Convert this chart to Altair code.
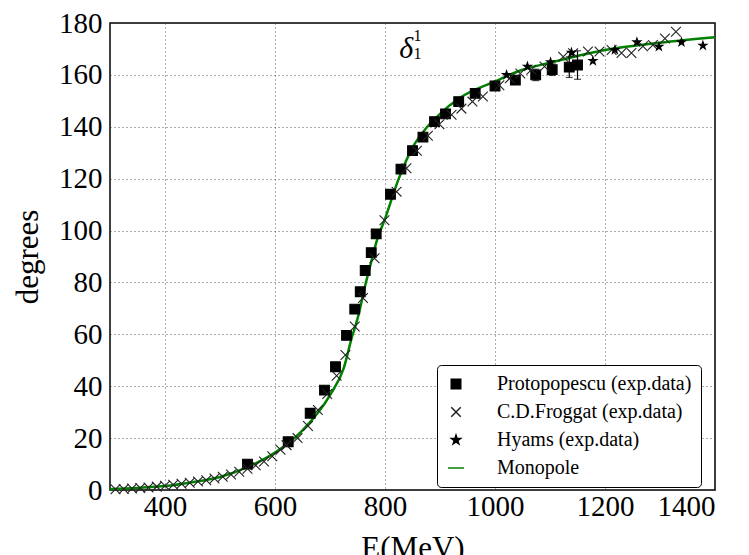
import altair as alt
import pandas as pd

# ---------------- data ----------------
series_names = ["Protopopescu (exp.data)", "C.D.Froggat (exp.data)", "Hyams (exp.data)", "Monopole"]

proto_E = [550, 624, 664, 690, 710, 730, 745, 755, 764, 775, 784, 810, 829, 850, 869, 890, 910,
           934, 964, 1000, 1037, 1074, 1104, 1135, 1150]
proto_deg = [10, 18.6, 29.6, 38.5, 47.5, 59.6, 69.7, 76.4, 84.6, 91.5, 98.7, 114, 123.7, 130.8, 136,
             142, 145, 149.7, 152.9, 155.7, 158, 160, 162, 163, 163.8]
proto_err = [0.8, 1, 1, 1, 1, 1, 1, 1, 1, 1, 1, 1, 1, 1, 1, 1, 1, 1, 1, 1, 1.5, 2.2, 2.2, 4, 5.5]

frog_E = [310, 325, 340, 355, 370, 385, 400, 415, 430, 445, 460, 475, 490, 505, 520, 535, 550, 565,
          580, 595, 610, 621, 641, 660, 678, 695, 712, 728, 745, 760, 781, 799, 821, 839, 858, 878,
          899, 921, 939, 959, 978, 1008, 1027, 1046, 1066, 1090, 1124, 1142, 1169, 1190, 1212, 1230,
          1248, 1269, 1287, 1309, 1329]
frog_deg = [0.3, 0.4, 0.6, 0.8, 1.0, 1.3, 1.6, 2.0, 2.4, 2.8, 3.3, 3.8, 4.4, 5.1, 6.0, 7.0, 8.2, 9.5,
            11, 13, 15.5, 17.3, 20, 24.7, 30.8, 37, 44, 52, 63, 74, 89.3, 104, 115, 124, 130.8, 136.5,
            141, 144.6, 147, 149.7, 151.7, 156, 158.7, 160.5, 162, 163.2, 167, 168.3, 169, 169, 169.6,
            168.4, 168.4, 171, 171.5, 174, 176.6]

hyams_E = [1021, 1059, 1101, 1139, 1178, 1218, 1258, 1298, 1339, 1378]
hyams_deg = [160, 163.2, 164.9, 168.6, 165.4, 169.6, 172.6, 170.9, 172.6, 171.3]

mono_E = [300, 350, 400, 450, 500, 550, 600, 650, 700, 725, 740, 750, 765, 775, 785, 800, 825, 850,
          875, 900, 935, 1000, 1050, 1100, 1200, 1300, 1400]
mono_deg = [0.3, 0.8, 1.5, 3.0, 5.0, 8.8, 14.4, 23, 36.6, 47, 59, 66, 79.7, 88, 96, 104.5, 120, 132,
            139.5, 145, 151, 157.5, 162, 164.7, 169.6, 172.4, 174.5]

x_ticks = [400, 600, 800, 1000, 1200, 1400]
y_ticks = [0, 20, 40, 60, 80, 100, 120, 140, 160, 180]

# panel label (text annotation, anchored in data coordinates)
label_text = ["δ"]
label_E = [826]
label_deg = [166.5]
index_text = ["1", "1"]
index_E = [852, 852]
index_deg = [167.9, 175.0]

# ---------------- tables ----------------
pts = pd.concat([
    pd.DataFrame({"E": proto_E, "deg": proto_deg, "series": series_names[0]}),
    pd.DataFrame({"E": frog_E, "deg": frog_deg, "series": series_names[1]}),
    pd.DataFrame({"E": hyams_E, "deg": hyams_deg, "series": series_names[2]}),
], ignore_index=True)
err = pd.DataFrame({"E": proto_E,
                    "lo": [d - e for d, e in zip(proto_deg, proto_err)],
                    "hi": [d + e for d, e in zip(proto_deg, proto_err)]})
mono = pd.DataFrame({"E": mono_E, "deg": mono_deg, "series": series_names[3]})
lab = pd.DataFrame({"E": label_E, "deg": label_deg, "t": label_text})
idx = pd.DataFrame({"E": index_E, "deg": index_deg, "t": index_text})

GREEN = "#008000"
SERIF = "Liberation Serif"
cross_path = "M-1,-1L1,1M-1,1L1,-1"
star_path = ("M0,-1L0.2245,-0.309L0.951,-0.309L0.363,0.118L0.588,0.809L0,0.382"
             "L-0.588,0.809L-0.363,0.118L-0.951,-0.309L-0.2245,-0.309Z")
line_path = "M-1.7,0L1.7,0"

x_scale = alt.Scale(domain=[300, 1400], nice=False, zero=False)
y_scale = alt.Scale(domain=[0, 180], nice=False)

x_axis = alt.Axis(values=x_ticks, title="E(MeV)", format="d", grid=True, tickSize=0,
                  labelPadding=2, titlePadding=12)
y_axis = alt.Axis(values=y_ticks, title="degrees", format="d", grid=True, tickSize=0,
                  labelPadding=8, titlePadding=14)

legend = alt.Legend(title=None, orient="none", legendX=327, legendY=342,
                    fillColor="white", strokeColor="black", cornerRadius=4, padding=9,
                    labelFont=SERIF, labelFontSize=20, labelColor="black", labelLimit=400,
                    rowPadding=8, symbolSize=90, symbolStrokeWidth=1.5, labelOffset=31)

fill_scale = alt.Scale(domain=series_names, range=["black", "black", "black", GREEN])
stroke_scale = alt.Scale(domain=series_names, range=["black", "#222222", "black", GREEN])
shape_scale = alt.Scale(domain=series_names, range=["square", cross_path, star_path, line_path])

base_x = alt.X("E:Q", scale=x_scale, axis=x_axis)
base_y = alt.Y("deg:Q", scale=y_scale, axis=y_axis)

line = alt.Chart(mono).mark_line(strokeWidth=2.5, interpolate="monotone").encode(
    x=base_x, y=base_y,
    stroke=alt.Stroke("series:N", scale=stroke_scale, legend=legend),
)

bars = alt.Chart(err).mark_rule(color="black", strokeWidth=1.2).encode(
    x=alt.X("E:Q", scale=x_scale, axis=x_axis), y=alt.Y("lo:Q", scale=y_scale, axis=y_axis), y2="hi:Q")
cap_lo = alt.Chart(err).mark_tick(color="black", orient="horizontal", size=7, thickness=1.2).encode(
    x=alt.X("E:Q", scale=x_scale, axis=x_axis), y=alt.Y("lo:Q", scale=y_scale, axis=y_axis))
cap_hi = alt.Chart(err).mark_tick(color="black", orient="horizontal", size=7, thickness=1.2).encode(
    x=alt.X("E:Q", scale=x_scale, axis=x_axis), y=alt.Y("hi:Q", scale=y_scale, axis=y_axis))

points = alt.Chart(pts).mark_point(filled=True, strokeWidth=1.1, opacity=1).encode(
    x=base_x, y=base_y,
    shape=alt.Shape("series:N", scale=shape_scale, legend=legend),
    fill=alt.Fill("series:N", scale=fill_scale, legend=legend),
    stroke=alt.Stroke("series:N", scale=stroke_scale, legend=legend),
    size=alt.condition(alt.datum.series == series_names[2], alt.value(70), alt.value(95)),
)

delta = alt.Chart(lab).mark_text(font=SERIF, fontStyle="italic", fontSize=30, color="black",
                                 align="left", baseline="alphabetic").encode(
    x=alt.X("E:Q", scale=x_scale, axis=x_axis), y=alt.Y("deg:Q", scale=y_scale, axis=y_axis), text="t:N")
delta_idx = alt.Chart(idx).mark_text(font=SERIF, fontSize=16, color="black",
                                     align="left", baseline="middle").encode(
    x=alt.X("E:Q", scale=x_scale, axis=x_axis), y=alt.Y("deg:Q", scale=y_scale, axis=y_axis), text="t:N")

chart = alt.layer(line, bars, cap_lo, cap_hi, points, delta, delta_idx).properties(
    width=605, height=467,
    background="white",
    autosize=alt.AutoSizeParams(type="none"),
    padding={"left": 110, "top": 23, "right": 34, "bottom": 65},
).configure_view(
    stroke="black", strokeWidth=1.5
).configure_axis(
    labelFont=SERIF, labelFontSize=29, labelColor="black",
    titleFont=SERIF, titleFontSize=31, titleFontWeight="normal", titleColor="black",
    domain=False, gridColor="#333333", gridDash=[1, 3], gridWidth=1, gridOpacity=0.8,
)

chart.save("out.html", embed_options={"renderer": "svg", "actions": False})
